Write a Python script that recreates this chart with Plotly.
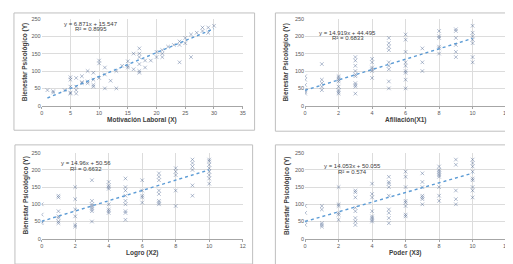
import plotly.graph_objects as go

# ---------------- data ----------------
y_ticks = [0, 50, 100, 150, 200, 250]
y_title = "Bienestar Psicológico (Y)"

p1_title = "Motivación Laboral (X)"
p1_x = [1, 2, 2, 4, 5, 5, 5, 5, 5, 6, 6, 6, 6, 7, 7, 7, 8, 8, 8, 9, 9, 9, 9,
        10, 10, 10, 11, 11, 11, 12, 13, 13, 14, 15, 15, 15, 16, 16,
        17, 17, 17, 17, 17, 17, 18, 18, 19, 20, 20, 21, 21, 21, 22, 23,
        24, 24, 24, 25, 25, 26, 26, 27, 28, 28, 29, 29, 30]
p1_y = [45, 38, 42, 45, 82, 75, 55, 38, 35, 45, 35, 55, 80, 85, 68, 65, 100, 70, 65, 95, 60, 55, 75,
        130, 122, 80, 110, 90, 50, 72, 50, 100, 115, 128, 115, 110, 150, 105,
        165, 150, 140, 120, 100, 95, 130, 110, 130, 155, 140, 160, 150, 140, 170, 175,
        185, 175, 125, 195, 180, 205, 140, 210, 225, 215, 225, 210, 230]
p1_fit = (6.871, 15.547)
p1_eq = ["y = 6.871x + 15.547", "R² = 0.8995"]
p1_xticks = [0, 5, 10, 15, 20, 25, 30, 35]

p2_title = "Afiliación(X1)"
p2_x = [0, 0, 0, 0, 0, 0, 1, 1, 1, 1, 1, 2, 2, 2, 2, 2, 2, 2, 2,
        3, 3, 3, 3, 3, 3, 3, 3, 3, 3, 4, 4, 4, 4, 4, 4,
        5, 5, 5, 5, 5, 5, 5, 5, 5, 6, 6, 6, 6, 6, 6, 6, 6, 6,
        7, 7, 7, 8, 8, 8, 8, 8, 8, 9, 9, 9, 9, 9, 9,
        10, 10, 10, 10, 10, 10, 10]
p2_y = [85, 75, 60, 45, 40, 35, 120, 75, 65, 55, 45, 85, 80, 75, 70, 55, 45, 40, 35,
        140, 130, 115, 100, 90, 85, 65, 60, 55, 35, 135, 125, 110, 105, 100, 80,
        195, 180, 170, 160, 125, 115, 105, 70, 50, 205, 190, 155, 125, 115, 100, 95, 75, 50,
        165, 125, 100, 215, 200, 195, 170, 165, 150, 220, 215, 195, 175, 155, 140,
        230, 210, 200, 190, 180, 140, 125]
p2_fit = (14.919, 44.495)
p2_eq = ["y = 14.919x + 44.495", "R² = 0.6833"]

p3_title = "Logro (X2)"
p3_x = [0, 0, 0, 0, 1, 1, 1, 1, 1, 1, 1, 2, 2, 2, 2, 2, 2,
        3, 3, 3, 3, 3, 3, 3, 3, 4, 4, 4, 4, 4, 4, 4, 4,
        5, 5, 5, 5, 5, 5, 5, 5, 5, 6, 6, 6, 6, 6,
        7, 7, 7, 7, 7, 7, 7, 7, 8, 8, 8, 8, 8, 9, 9, 9, 9, 9, 9,
        10, 10, 10, 10, 10, 10, 10, 10]
p3_y = [100, 70, 50, 45, 125, 120, 80, 65, 60, 50, 45, 150, 115, 85, 65, 40, 35,
        170, 110, 100, 95, 90, 85, 80, 50, 165, 155, 150, 145, 100, 85, 80, 75,
        175, 150, 140, 125, 110, 100, 80, 75, 55, 170, 140, 125, 120, 105,
        190, 180, 170, 140, 130, 110, 105, 100, 205, 195, 185, 140, 95, 230, 220, 210, 200, 155, 125,
        230, 225, 215, 205, 195, 185, 175, 160]
p3_fit = (14.96, 50.56)
p3_eq = ["y = 14.96x + 50.56", "R² = 0.6632"]

p4_title = "Poder (X3)"
p4_x = [0, 0, 0, 0, 1, 1, 1, 1, 1, 2, 2, 2, 2, 2, 2,
        3, 3, 3, 3, 3, 3, 3, 3, 4, 4, 4, 4, 4, 4, 4, 4,
        5, 5, 5, 5, 5, 5, 5, 5, 5, 6, 6, 6, 6, 6, 6, 6, 6,
        7, 7, 7, 7, 7, 7, 7, 8, 8, 8, 8, 8, 8, 8, 8, 8,
        9, 9, 9, 9, 9, 10, 10, 10, 10, 10, 10, 10, 10, 10]
p4_y = [95, 75, 50, 40, 95, 85, 45, 40, 35, 150, 100, 95, 75, 70, 55,
        140, 135, 120, 90, 80, 60, 50, 40, 160, 130, 120, 80, 65, 60, 55, 50,
        180, 165, 160, 150, 125, 85, 75, 60, 45, 195, 180, 150, 110, 105, 95, 70, 65,
        190, 165, 150, 125, 120, 115, 100, 210, 200, 195, 190, 185, 180, 150, 125, 110,
        230, 215, 140, 115, 100, 230, 220, 210, 195, 175, 170, 150, 140, 120]
p4_fit = (14.053, 50.055)
p4_eq = ["y = 14.053x + 50.055", "R² = 0.574"]

small_xticks = [0, 2, 4, 6, 8, 10, 12]

# ---------------- layout helpers ----------------
W, H = 513, 264
def px(x): return x / W
def py(y): return 1 - y / H

panels = [
    dict(x=p1_x, y=p1_y, title=p1_title, fit=p1_fit, eq=p1_eq, ticks=p1_xticks, xmax=35,
         plot=(32, 235, 8, 97), frame=(4, 247, 2, 122), eqc=(82, 13)),
    dict(x=p2_x, y=p2_y, title=p2_title, fit=p2_fit, eq=p2_eq, ticks=small_xticks, xmax=12,
         plot=(298, 501, 8, 97), frame=(268, 504, 2, 123), eqc=(341, 22)),
    dict(x=p3_x, y=p3_y, title=p3_title, fit=p3_fit, eq=p3_eq, ticks=small_xticks, xmax=12,
         plot=(32, 235, 145, 233), frame=(5, 245, 137, 259), eqc=(77, 156)),
    dict(x=p4_x, y=p4_y, title=p4_title, fit=p4_fit, eq=p4_eq, ticks=small_xticks, xmax=12,
         plot=(298, 501, 145, 233), frame=(268, 504, 137, 260), eqc=(346, 159)),
]

fig = go.Figure()
shapes, annotations = [], []
tick_font = dict(family="Liberation Sans, Arial", size=5.5, color="#595959")
title_font = dict(family="Liberation Sans, Arial", size=6.5, color="#404040")
eq_font = dict(family="Liberation Sans, Arial", size=6, color="#404040")

for i, p in enumerate(panels, start=1):
    xa = "x" if i == 1 else f"x{i}"
    ya = "y" if i == 1 else f"y{i}"
    l, r, t, b = p["plot"]
    fig.add_trace(go.Scatter(
        x=p["x"], y=p["y"], mode="markers", xaxis=xa, yaxis=ya, showlegend=False,
        marker=dict(symbol="x-thin", size=3.6,
                    line=dict(width=1, color="rgba(70,95,140,0.42)")),
    ))
    xs = [min(p["x"]), max(p["x"])]
    m, c = p["fit"]
    fig.add_trace(go.Scatter(
        x=xs, y=[m * v + c for v in xs], mode="lines", xaxis=xa, yaxis=ya, showlegend=False,
        line=dict(color="#5b9bd5", width=1.4, dash="dot"),
    ))
    xkey = "xaxis" if i == 1 else f"xaxis{i}"
    ykey = "yaxis" if i == 1 else f"yaxis{i}"
    fig.layout[xkey] = dict(
        domain=[px(l), px(r)], range=[0, p["xmax"]], anchor=ya,
        tickvals=p["ticks"], tickfont=tick_font, showgrid=True, gridcolor="#dcdcdc",
        gridwidth=0.7, showline=True, linecolor="#a6a6a6", linewidth=0.8,
        ticks="outside", ticklen=2, tickcolor="#a6a6a6", zeroline=False, fixedrange=True)
    fig.layout[ykey] = dict(
        domain=[py(b), py(t)], range=[0, 250], anchor=xa,
        tickvals=y_ticks, tickfont=tick_font, showgrid=True, gridcolor="#dcdcdc",
        gridwidth=0.7, showline=False, ticks="", zeroline=False, fixedrange=True)
    fl, fr, ft, fb = p["frame"]
    shapes.append(dict(type="rect", xref="paper", yref="paper",
                       x0=px(fl), x1=px(fr), y0=py(fb), y1=py(ft),
                       line=dict(color="#bfbfbf", width=1), fillcolor="rgba(0,0,0,0)"))
    annotations.append(dict(xref="paper", yref="paper", x=px((l + r) / 2), y=py(b + 15),
                            text=f"<b>{p['title']}</b>", showarrow=False, font=title_font,
                            xanchor="center", yanchor="middle"))
    annotations.append(dict(xref="paper", yref="paper", x=px(fl + 11), y=py((t + b) / 2),
                            text=f"<b>{y_title}</b>", showarrow=False, font=title_font,
                            textangle=-90, xanchor="center", yanchor="middle"))
    ex, ey = p["eqc"]
    annotations.append(dict(xref="paper", yref="paper", x=px(ex), y=py(ey),
                            text=p["eq"][0], showarrow=False, font=eq_font,
                            xanchor="center", yanchor="middle"))
    annotations.append(dict(xref="paper", yref="paper", x=px(ex), y=py(ey + 5.5),
                            text=p["eq"][1], showarrow=False, font=eq_font,
                            xanchor="center", yanchor="middle"))

fig.update_layout(width=W, height=H, margin=dict(l=0, r=0, t=0, b=0),
                  paper_bgcolor="white", plot_bgcolor="white",
                  shapes=shapes, annotations=annotations)
fig.write_html("out.html")
